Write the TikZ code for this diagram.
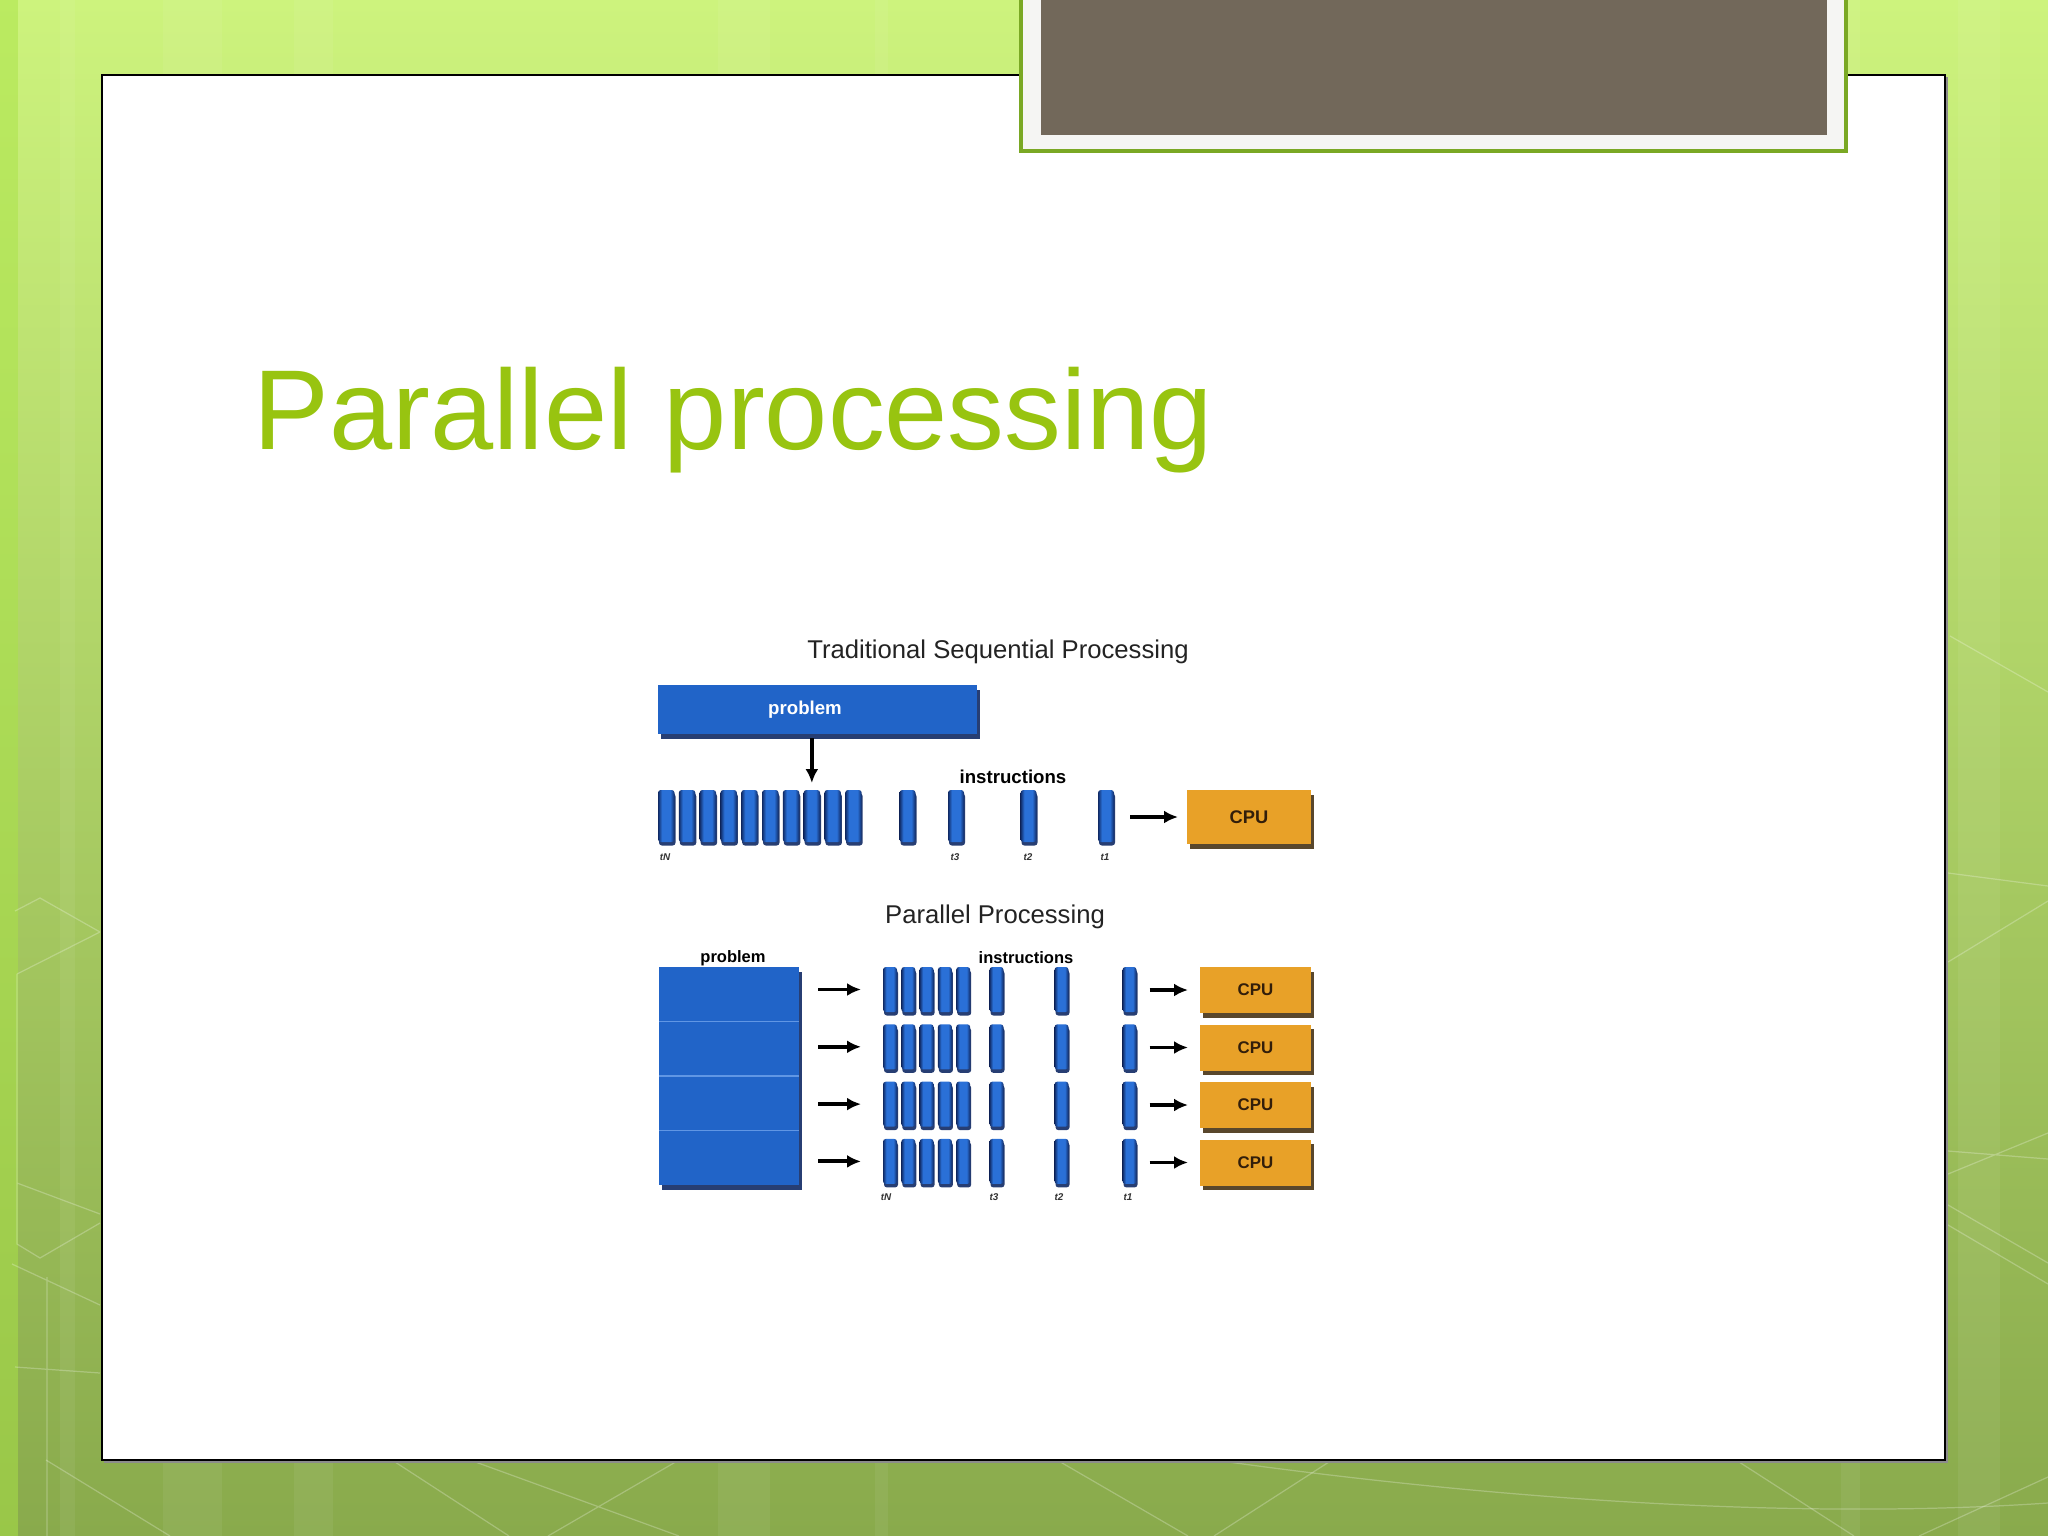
\documentclass[tikz,border=0pt]{standalone}
\usepackage{fontspec}
\setmainfont{Liberation Sans}
\usepackage{xcolor}
\usetikzlibrary{arrows.meta,shadows,positioning}
\definecolor{bgtop}{RGB}{205,243,125}
\definecolor{bgbot}{RGB}{137,170,76}
\definecolor{bgside}{RGB}{170,228,70}
\definecolor{titlegreen}{RGB}{152,196,16}
\definecolor{framegreen}{RGB}{122,168,36}
\definecolor{paper}{RGB}{245,245,243}
\definecolor{taupe}{RGB}{114,104,90}
\definecolor{boxblue}{RGB}{33,100,200}
\definecolor{barblue}{RGB}{42,112,215}
\definecolor{barnavy}{RGB}{16,42,100}
\definecolor{slicelight}{RGB}{96,150,228}
\definecolor{cpuorange}{RGB}{232,161,40}
\definecolor{cpushadow}{RGB}{72,52,22}
\definecolor{cputext}{RGB}{50,30,10}
\definecolor{inktext}{RGB}{35,35,35}
\def\pix{0.01cm}
\pgfdeclarehorizontalshading{barshade}{100bp}{color(0bp)=(barnavy); color(25bp)=(barnavy);
  color(37bp)=(barblue); color(62bp)=(barblue); color(75bp)=(barnavy); color(100bp)=(barnavy)}

\begin{document}
\begin{tikzpicture}[x=0.01cm, y=-0.01cm,
    instbar/.style={shading=barshade, inner sep=0, outer sep=0, rounded corners=0.8pt,
      drop shadow={shadow xshift=0.01cm, shadow yshift=-0.035cm, fill=barnavy, opacity=0.9}},
    bluebox/.style={fill=boxblue, inner sep=0, outer sep=0,
      drop shadow={shadow xshift=0.025cm, shadow yshift=-0.045cm, fill=barnavy, opacity=0.9}},
    cpubox/.style={fill=cpuorange, inner sep=0, outer sep=0, text=cputext,
      drop shadow={shadow xshift=0.03cm, shadow yshift=-0.045cm, fill=cpushadow, opacity=0.9}},
    flowarrow/.style={-{Latex[length=0.14cm, width=0.13cm]}, line width=1.1pt, black},
    tlab/.style={font=\bfseries\itshape\fontsize{2.8}{3}\selectfont, text=black!80, inner sep=0},
    smallhead/.style={font=\bfseries\fontsize{5.3}{5}\selectfont, inner sep=0},
    charthead/.style={font=\fontsize{7.3}{8}\selectfont, text=inktext, inner sep=0, anchor=base},
    bgline/.style={white, opacity=0.25, line width=0.35pt}]
  \useasboundingbox (0,0) rectangle (2048,1536);

  % slide background
  \shade[top color=bgtop, bottom color=bgbot] (0,0) rectangle (2048,1536);
  \fill[bgside, opacity=0.5] (0,0) rectangle (18,1536);
  \foreach \xa/\xb in {60/75, 163/222, 294/333, 718/770, 875/888, 1841/1860, 1958/2000} {
    \fill[white, opacity=0.06] (\xa,0) rectangle (\xb,1536);
  }
  % faint lines in the margins
  \draw[bgline] (46,1460) -- (170,1536) (392,1460) -- (509,1536) (470,1460) -- (679,1536)
    (679,1460) -- (548,1536) (1057,1460) -- (1188,1536) (1332,1460) -- (1214,1536)
    (1736,1460) -- (1854,1536) (2048,1477) -- (1919,1536);
  \draw[bgline] (1214,1460) .. controls (1500,1500) and (1800,1520) .. (2048,1503);
  \draw[bgline] (1950,636) -- (2048,692) (1948,873) -- (2048,886) (1948,962) -- (2048,901)
    (1948,1151) -- (2048,1159) (1948,1174) -- (2048,1133) (1948,1205) -- (2048,1263)
    (1948,1225) -- (2048,1284);
  \draw[bgline] (15,911) -- (40,898) -- (100,932) (17,974) -- (100,932) (17,974) -- (17,1244)
    -- (40,1258) -- (100,1223) (17,1183) -- (100,1214) (12,1264) -- (100,1305)
    (47,1277) -- (47,1536) (15,1367) -- (100,1373);

  % white slide
  \fill[black!45] (104,77) rectangle (1948,1463);
  \draw[black, line width=0.45pt, fill=white] (102,75) rectangle (1945,1460);

  % picture frame at the top
  \draw[framegreen, line width=1pt, fill=paper] (1021,-10) rectangle (1846,151);
  \fill[taupe] (1041,-10) rectangle (1827,135);

  % title
  \node[anchor=base west, inner sep=0, text=titlegreen,
        font=\fontsize{32.3}{36}\selectfont] (title) at (253,449) {Parallel processing};

  % Traditional sequential processing
  \node[charthead] (seqhead) at (998,658) {Traditional Sequential Processing};
  \node[bluebox, minimum width=319*\pix, minimum height=49*\pix] (sprob) at (817.5,709.5) {};
  \node[smallhead, text=white] (sproblab) at (805,710) {problem};
  \foreach \i in {1,...,10} {
    \node[instbar, minimum width=16.5*\pix, minimum height=52*\pix] (sb\i) at (666.25+20.8*\i-20.8,816) {};
  }
  \foreach \x/\n in {907.5/x, 956/3, 1028.5/2, 1106/1} {
    \node[instbar, minimum width=16*\pix, minimum height=52*\pix] (s\n) at (\x,816) {};
  }
  \node[smallhead] (sinst) at (1013,777) {instructions};
  \node[tlab] (stN) at (665,857) {tN};
  \node[tlab] (st3) at (955,857) {t3};
  \node[tlab] (st2) at (1028,857) {t2};
  \node[tlab] (st1) at (1105,857) {t1};
  \node[cpubox, minimum width=124*\pix, minimum height=54*\pix,
        font=\bfseries\fontsize{5.2}{5}\selectfont] (scpu) at (1249,817) {CPU};
  \draw[flowarrow, shorten <=4*\pix, shorten >=7*\pix] (sb8 |- sprob.south) -- (sb8.north);
  \draw[flowarrow, shorten <=16*\pix, shorten >=9*\pix] (s1.east |- scpu.west) -- (scpu.west);

  % Parallel processing
  \node[charthead] (parhead) at (995,923) {Parallel Processing};
  \node[smallhead, font=\bfseries\fontsize{4.7}{5}\selectfont] (pproblab) at (733,958) {problem};
  \node[smallhead, font=\bfseries\fontsize{4.7}{5}\selectfont] (pinst) at (1026,958) {instructions};
  \foreach \r in {1,...,4} {
    % one slice of the problem
    \node[bluebox, minimum width=140*\pix, minimum height=54.5*\pix] (pp\r) at (729,994.25+54.5*\r-54.5) {};
    % instructions of this slice
    \foreach \x [count=\i] in {890,908.3,926.6,944.9,963.2,996.5,1061.5,1129.5} {
      \node[instbar, minimum width=14*\pix, minimum height=45*\pix] (pb\r-\i) at (\x,989.5+57.3*\r-57.3) {};
    }
    \node[cpubox, minimum width=111*\pix, minimum height=46*\pix,
          font=\bfseries\fontsize{4.8}{5}\selectfont] (pc\r) at (1255.5,990+57.5*\r-57.5) {CPU};
    \draw[flowarrow, shorten <=19*\pix, shorten >=22*\pix] (pp\r.east |- pb\r-1.west) -- (pb\r-1.west);
    \draw[flowarrow, shorten <=13*\pix, shorten >=12*\pix] (pb\r-8.east |- pc\r.west) -- (pc\r.west);
  }
  % light seams between the slices
  \foreach \r in {1,2,3} {
    \draw[slicelight, line width=0.5pt] (pp\r.south west) -- (pp\r.south east);
  }
  \node[tlab] (ptN) at (886,1197) {tN};
  \node[tlab] (pt3) at (994,1197) {t3};
  \node[tlab] (pt2) at (1059,1197) {t2};
  \node[tlab] (pt1) at (1128,1197) {t1};
\end{tikzpicture}
\end{document}
